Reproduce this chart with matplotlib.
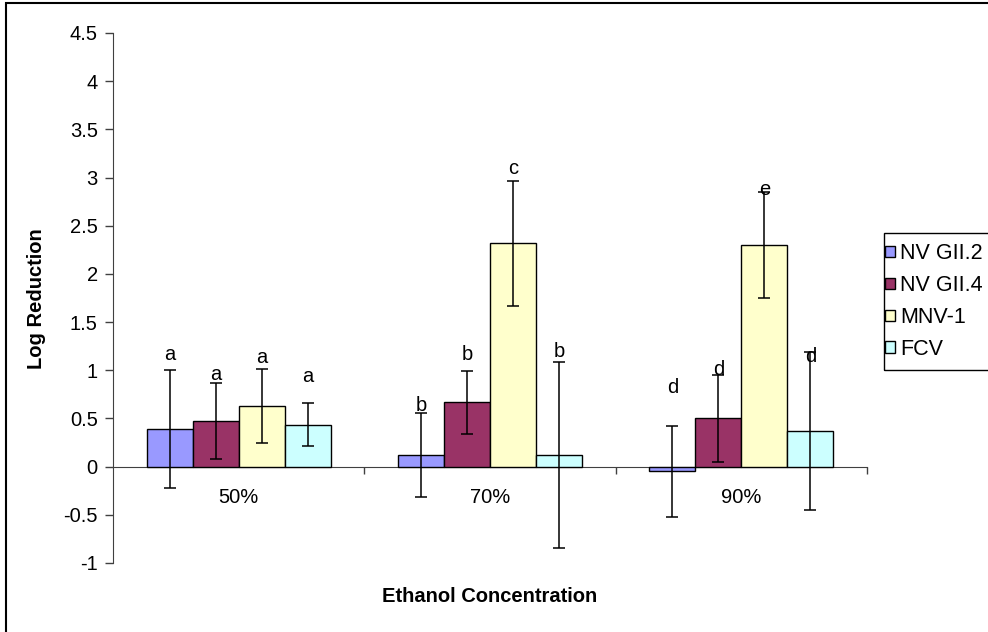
import numpy as np
import matplotlib.pyplot as plt
from matplotlib.patches import Patch, Rectangle
from matplotlib.ticker import FixedLocator

plt.rcParams['font.family'] = ['Liberation Sans', 'DejaVu Sans']

concentrations = ['50%', '70%', '90%']
series = ['NV GII.2', 'NV GII.4', 'MNV-1', 'FCV']
colors = ['#9999FF', '#993366', '#FFFFCC', '#CCFFFF']

# log reduction per series, one value per ethanol concentration
means = {
    'NV GII.2': [0.39, 0.125, -0.05],
    'NV GII.4': [0.47, 0.668, 0.50],
    'MNV-1':    [0.63, 2.316, 2.30],
    'FCV':      [0.437, 0.125, 0.37],
}
errors = {
    'NV GII.2': [0.61, 0.435, 0.47],
    'NV GII.4': [0.395, 0.325, 0.45],
    'MNV-1':    [0.385, 0.645, 0.55],
    'FCV':      [0.227, 0.965, 0.815],
}
# significance letters and the height they sit at
letters = {
    'NV GII.2': ['a', 'b', 'd'],
    'NV GII.4': ['a', 'b', 'd'],
    'MNV-1':    ['a', 'c', 'e'],
    'FCV':      ['a', 'b', 'd'],
}
letter_y = {
    'NV GII.2': [1.166, 0.63, 0.82],
    'NV GII.4': [0.96, 1.166, 1.01],
    'MNV-1':    [1.135, 3.09, 2.876],
    'FCV':      [0.94, 1.19, 1.145],
}
yticks = np.arange(-1, 4.51, 0.5)

FS = 14.5
W, H = 988, 632
fig = plt.figure(figsize=(W / 100, H / 100), dpi=100)
ax = fig.add_axes([113 / W, 1 - 563 / H, (867 - 113) / W, (563 - 33) / H])

x = np.arange(len(concentrations))
bw = 0.183
for i, s in enumerate(series):
    pos = x + (i - 1.5) * bw
    ax.bar(pos, means[s], bw, color=colors[i], edgecolor='black', linewidth=1.0,
           label=s, zorder=2)
    ax.errorbar(pos, means[s], yerr=errors[s], fmt='none', ecolor='black',
                elinewidth=1.1, capsize=4, capthick=1.1, zorder=3)
    for xi, lt, ly in zip(pos, letters[s], letter_y[s]):
        ax.text(xi, ly, lt, ha='center', va='center', fontsize=FS, zorder=4)

ax.set_xlim(-0.5, 2.5)
ax.set_ylim(-1, 4.5)
ax.set_yticks(yticks)
ax.set_yticklabels([f'{v:g}' for v in yticks])
ax.tick_params(axis='y', direction='out', length=6, width=1, pad=5,
               labelsize=FS, color='#404040')

ax.spines['top'].set_visible(False)
ax.spines['right'].set_visible(False)
ax.spines['left'].set_color('#404040')
ax.spines['bottom'].set_position(('data', 0))
ax.spines['bottom'].set_color('#404040')
ax.spines['bottom'].set_zorder(1)

ax.set_xticks(x)
ax.set_xticklabels(concentrations)
ax.xaxis.set_minor_locator(FixedLocator([0.5, 1.5, 2.5]))
ax.tick_params(axis='x', which='major', length=0, pad=15.5, labelsize=FS)
ax.tick_params(axis='x', which='minor', direction='out', length=5, width=1,
               color='#404040')

ax.set_ylabel('Log Reduction', fontsize=FS, fontweight='bold')
ax.yaxis.set_label_coords((46 - 113) / (867 - 113), (563 - 299) / (563 - 33))
fig.text(490 / W, 1 - 597 / H, 'Ethanol Concentration', ha='center',
         va='center', fontsize=FS, fontweight='bold')

# legend, with its box drawn separately so it runs off the right edge
handles = [Patch(facecolor=c, edgecolor='black', linewidth=1) for c in colors]
fig.legend(handles, series, loc='upper left',
           bbox_to_anchor=(885 / W, 1 - 243 / H), fontsize=15.5,
           frameon=False, handlelength=0.45, handleheight=0.45,
           handletextpad=0.25, labelspacing=0.51, borderpad=0,
           borderaxespad=0)
fig.add_artist(Rectangle((884 / W, 1 - 370 / H), 0.2, (370 - 233) / H,
                         transform=fig.transFigure, fill=False,
                         edgecolor='black', linewidth=1))

# chart area border
fig.add_artist(Rectangle((6 / W, -0.1), 1.2, 1 - 3 / H + 0.1,
                         transform=fig.transFigure, fill=False,
                         edgecolor='black', linewidth=1.5))

fig.savefig('out.png', dpi=100)
